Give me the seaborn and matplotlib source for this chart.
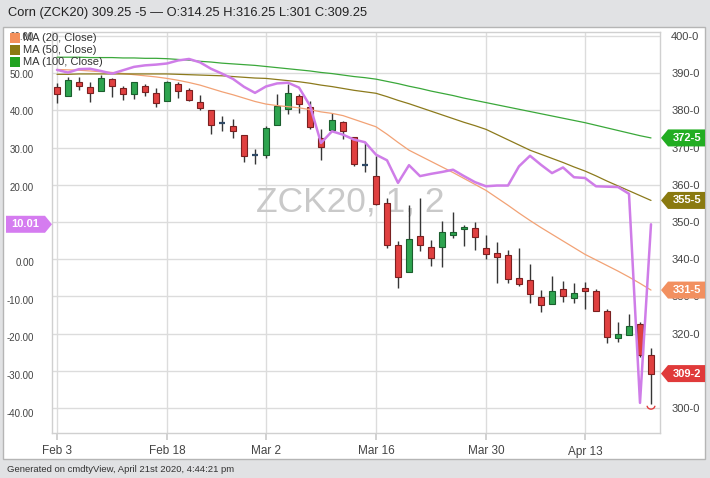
import numpy as np
import pandas as pd
import matplotlib
matplotlib.use("Agg")
import matplotlib.pyplot as plt
import matplotlib.transforms as mtransforms
from matplotlib.patches import Polygon, Rectangle, Arc
import seaborn as sns

W, H = 710, 478

# ---- daily ZCK20 bars, Feb 3 .. Apr 21 2020 ----
opens = [386.2, 384.0, 387.6, 386.4, 385.3, 388.4, 385.9, 384.4, 386.5, 384.7,
         382.5, 387.0, 385.6, 382.3, 380.0, 376.6, 375.8, 373.5, 368.1, 368.1,
         376.2, 380.5, 384.0, 380.9, 372.6, 374.6, 376.9, 372.9, 365.4, 362.4,
         355.1, 343.9, 336.5, 346.3, 343.4, 343.4, 346.5, 348.2, 348.3, 343.0,
         341.6, 341.2, 334.9, 334.5, 329.8, 328.0, 332.0, 329.6, 332.3, 331.4,
         326.0, 318.7, 319.6, 322.5, 314.25]
highs = [387.3, 389.1, 388.9, 387.5, 389.4, 388.7, 386.5, 387.7, 387.1, 385.9,
         387.8, 387.5, 385.9, 384.1, 380.0, 378.5, 377.8, 373.5, 369.5, 375.8,
         384.3, 387.0, 384.3, 382.5, 374.9, 379.4, 377.1, 372.9, 371.5, 367.7,
         356.4, 345.0, 354.6, 356.4, 345.2, 350.3, 352.6, 349.1, 349.9, 346.5,
         344.6, 342.5, 342.9, 338.6, 331.6, 335.6, 334.1, 333.6, 333.8, 332.0,
         326.6, 323.0, 325.3, 323.2, 316.25]
lows = [382.1, 383.9, 385.5, 382.2, 385.1, 383.6, 382.9, 383.1, 383.8, 380.9,
        382.4, 383.2, 382.5, 380.0, 373.6, 374.4, 372.6, 366.1, 365.6, 367.2,
        376.0, 378.9, 379.4, 374.9, 366.8, 374.4, 372.2, 365.0, 363.4, 354.5,
        343.0, 332.2, 336.5, 342.3, 338.2, 338.0, 345.8, 343.6, 342.5, 340.0,
        333.7, 333.7, 332.9, 328.2, 325.7, 328.0, 328.4, 328.2, 326.6, 326.0,
        317.6, 317.8, 319.6, 313.8, 301.0]
closes = [384.5, 388.2, 386.5, 384.7, 388.6, 386.5, 384.5, 387.5, 384.9, 382.0,
          387.6, 385.3, 382.7, 380.7, 376.0, 376.6, 374.4, 367.8, 368.1, 375.3,
          381.1, 384.8, 381.6, 375.6, 370.1, 377.3, 374.4, 365.6, 365.4, 354.8,
          343.9, 335.2, 345.4, 343.7, 340.2, 347.2, 347.4, 348.6, 345.9, 341.3,
          340.7, 334.7, 333.4, 330.7, 327.7, 331.5, 330.0, 330.8, 331.4, 326.0,
          319.2, 319.8, 322.1, 314.25, 309.25]

ma20 = [391.0, 390.9, 390.8, 390.6, 390.4, 390.2, 389.9, 389.6, 389.3, 389.0,
        388.6, 388.1, 387.5, 386.8, 385.9, 385.0, 384.2, 383.3, 382.4, 381.7,
        381.3, 381.0, 380.7, 380.2, 379.6, 379.2, 378.6, 377.6, 376.6, 375.6,
        373.6, 371.4, 369.3, 367.8, 366.3, 364.8, 363.3, 361.7, 360.1, 358.5,
        356.5, 354.5, 352.4, 350.4, 348.5, 346.7, 344.9, 343.1, 341.3, 339.8,
        338.3, 336.8, 335.2, 333.5, 331.7]
ma50 = [389.7, 389.7, 389.8, 389.8, 389.8, 389.8, 389.8, 389.8, 389.8, 389.8,
        389.8, 389.7, 389.6, 389.5, 389.4, 389.3, 389.1, 388.9, 388.7, 388.6,
        388.3, 388.0, 387.7, 387.3, 386.8, 386.4, 385.9, 385.4, 385.0, 384.6,
        383.7, 382.7, 381.8, 380.8, 379.8, 378.8, 377.8, 376.8, 375.9, 374.9,
        373.5, 372.1, 370.7, 369.3, 368.2, 367.1, 366.0, 364.8, 363.7, 362.4,
        361.0, 359.7, 358.4, 357.1, 355.8]
ma100 = [394.3, 394.3, 394.3, 394.2, 394.2, 394.2, 394.1, 394.1, 394.0, 394.0,
         393.9, 393.7, 393.5, 393.2, 393.0, 392.7, 392.5, 392.3, 392.1, 391.8,
         391.5, 391.2, 390.9, 390.6, 390.2, 389.9, 389.5, 389.1, 388.8, 388.4,
         387.8, 387.2, 386.5, 385.9, 385.2, 384.6, 384.0, 383.3, 382.7, 382.1,
         381.5, 380.9, 380.3, 379.7, 379.1, 378.5, 377.9, 377.3, 376.7, 376.0,
         375.3, 374.6, 373.9, 373.2, 372.6]
# purple study, left scale
osc = [51.0, 50.3, 51.2, 51.3, 50.7, 50.0, 50.9, 51.8, 52.2, 52.4,
       52.7, 53.5, 53.9, 53.0, 51.3, 50.0, 48.6, 46.5, 44.9, 46.6,
       47.4, 47.6, 46.3, 41.5, 31.6, 34.7, 33.8, 32.5, 31.8, 28.5,
       27.0, 21.0, 25.7, 22.8, 23.4, 23.9, 24.5, 22.8, 21.2, 20.1,
       20.3, 20.3, 25.4, 28.2, 25.8, 23.6, 25.1, 22.5, 22.3, 20.1,
       20.0, 19.9, 18.1, -37.4, 10.01]

tick_idx = [0, 10, 19, 29, 39, 48]
tick_labels = ["Feb 3", "Feb 18", "Mar 2", "Mar 16", "Mar 30", "Apr 13"]
price_ticks = list(range(300, 401, 10))
price_labels = [f"{p}-0" for p in price_ticks]
osc_ticks = list(range(-40, 61, 10))
osc_labels = [f"{v:.2f}" for v in osc_ticks]
legend_names = ["MA (20, Close)", "MA (50, Close)", "MA (100, Close)"]
title = "Corn (ZCK20) 309.25 -5 \u2014 O:314.25 H:316.25 L:301 C:309.25"
footer = "Generated on cmdtyView, April 21st 2020, 4:44:21 pm"

C_MA20, C_MA50, C_MA100 = "#f2a275", "#8c7a1c", "#3aa83a"
C_OSC = "#cf7de8"
C_UP, C_UP_E = "#2ea44f", "#1b5e2e"
C_DN, C_DN_E = "#e04040", "#7a2020"

sns.set_theme(style="white")
plt.rcParams["font.family"] = ["Liberation Sans", "DejaVu Sans"]

def fx(px):
    return px / W

def fy(py):
    return 1 - py / H

fig = plt.figure(figsize=(W / 100, H / 100), dpi=100, facecolor="#e1e2e4")

# white chart panel
fig.add_artist(Rectangle((fx(3), fy(459)), fx(705) - fx(3), fy(27) - fy(459),
                         transform=fig.transFigure, facecolor="white",
                         edgecolor="#b5b5b5", lw=1, zorder=-1))

ax = fig.add_axes([fx(52), fy(433), fx(660) - fx(52), fy(32) - fy(433)])
ax2 = ax.twinx()
ax.set_facecolor("white")
ax.set_xlim(-5 / 11, (660 - 57) / 11)
ax.set_ylim(400 - (433 - 36) / 3.72, 400 + 4 / 3.72)
ax2.set_ylim((262 - 433) / 3.767, (262 - 32) / 3.767)

idx = np.arange(len(closes))
df = pd.DataFrame({"i": idx, "o": opens, "h": highs, "l": lows, "c": closes,
                   "ma20": ma20, "ma50": ma50, "ma100": ma100, "osc": osc})

# candles
up = df[df.c > df.o]
dn = df[df.c < df.o]
dj = df[df.c == df.o]
ax.vlines(df.i, df.l, df.h, color="#363636", lw=1, zorder=2)
ax.bar(up.i, up.c - up.o, bottom=up.o, width=0.62, color=C_UP,
       edgecolor=C_UP_E, lw=0.8, zorder=3)
ax.bar(dn.i, dn.o - dn.c, bottom=dn.c, width=0.62, color=C_DN,
       edgecolor=C_DN_E, lw=0.8, zorder=3)
ax.hlines(dj.o, dj.i - 0.31, dj.i + 0.31, color="#2f4a66", lw=1.6, zorder=3)
ax.add_patch(Arc((df.i.iloc[-1], 300.6), 0.7, 1.8, theta1=180, theta2=360,
                 color=C_DN, lw=1, zorder=3))

sns.lineplot(data=df, x="i", y="ma20", ax=ax, color=C_MA20, lw=0.9, zorder=4)
sns.lineplot(data=df, x="i", y="ma50", ax=ax, color=C_MA50, lw=0.9, zorder=4)
sns.lineplot(data=df, x="i", y="ma100", ax=ax, color=C_MA100, lw=0.9, zorder=4)

ax.text(26.7, 352.7, "ZCK20, 1, 2", fontsize=25.5, color="#c9c9c9",
        ha="center", va="baseline", zorder=1)

ax.set_xticks(tick_idx, tick_labels)
ax.set_yticks(price_ticks, price_labels)
ax.yaxis.tick_right()
ax.grid(True, color="#dcdcdc", lw=1)
ax.set_axisbelow(True)
ax.tick_params(axis="x", length=5, color="#cccccc", labelsize=8.5,
               labelcolor="#444444", pad=4, bottom=True)
ax.tick_params(axis="y", length=0, labelsize=8, labelcolor="#444444", pad=8)
ax.set_xlabel("")
ax.set_ylabel("")
for s in ax.spines.values():
    s.set_color("#d0d0d0")
    s.set_linewidth(1)

# study on its own (left) scale
sns.lineplot(data=df, x="i", y="osc", ax=ax2, color=C_OSC, lw=1.8)
ax2.set_xlim(-5 / 11, (660 - 57) / 11)
ax2.yaxis.tick_left()
ax2.set_yticks(osc_ticks, osc_labels)
ax2.tick_params(axis="y", length=0, labelsize=7, labelcolor="#444444", pad=13)
ax2.set_ylabel("")
ax2.set_xlabel("")
for s in ax2.spines.values():
    s.set_visible(False)

# value tags
def right_tag(y, text, color):
    tr = mtransforms.blended_transform_factory(fig.transFigure, ax.transData)
    h = 8.5 / 3.72
    pts = [(fx(661), y), (fx(668), y + h), (fx(705), y + h),
           (fx(705), y - h), (fx(668), y - h)]
    fig.add_artist(Polygon(pts, closed=True, transform=tr, facecolor=color,
                           edgecolor="none", zorder=5))
    fig.text(fx(687), y, text, transform=tr, color="white", fontsize=8,
             fontweight="bold", ha="center", va="center", zorder=6)

right_tag(ma100[-1], "372-5", "#22ad22")
right_tag(ma50[-1], "355-5", "#8a7a10")
right_tag(ma20[-1], "331-5", "#f29060")
right_tag(closes[-1], "309-2", "#e03a3a")

tr2 = mtransforms.blended_transform_factory(fig.transFigure, ax2.transData)
h2 = 8.5 / 3.767
yv = osc[-1]
fig.add_artist(Polygon([(fx(6), yv + h2), (fx(45), yv + h2), (fx(52), yv),
                        (fx(45), yv - h2), (fx(6), yv - h2)], closed=True,
                       transform=tr2, facecolor="#d57cf0", edgecolor="none",
                       zorder=5))
fig.text(fx(25.5), yv, f"{yv:.2f}", transform=tr2, color="white", fontsize=8,
         fontweight="bold", ha="center", va="center", zorder=6)

# legend
for k, (name, col) in enumerate(zip(legend_names, ["#f4905b", "#8c7a14", "#22a322"])):
    yc = 38 + k * 12
    fig.add_artist(Rectangle((fx(10), fy(yc + 5)), fx(10), fx(10) * W / H,
                             transform=fig.transFigure, facecolor=col,
                             edgecolor="none", zorder=5))
    fig.text(fx(23), fy(yc), name, fontsize=8, color="#333333",
             va="center", ha="left", zorder=6)

fig.text(fx(8), fy(13), title, fontsize=9.3, color="#222222", va="center")
fig.text(fx(7), fy(469), footer, fontsize=6.8, color="#333333", va="center")

fig.savefig("out.png", dpi=100, facecolor=fig.get_facecolor())
